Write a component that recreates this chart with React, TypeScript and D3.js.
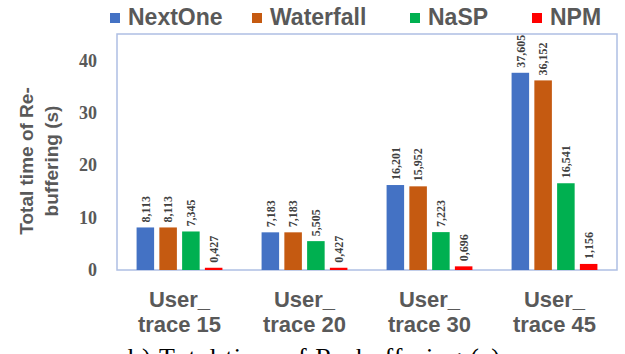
import React from "react";
import * as d3 from "d3";

const categories = ["User_|trace 15", "User_|trace 20", "User_|trace 30", "User_|trace 45"];
const seriesNames = ["NextOne", "Waterfall", "NaSP", "NPM"];
const nextOne = [8.113, 7.183, 16.201, 37.605];
const waterfall = [8.113, 7.183, 15.952, 36.152];
const nasp = [7.345, 5.505, 7.223, 16.541];
const npm = [0.427, 0.427, 0.696, 1.156];
const yTicks = [0, 10, 20, 30, 40];
const colors = ["#4472C4", "#C55A11", "#00B050", "#FF0000"];

const seriesValues = [nextOne, waterfall, nasp, npm];

const fmt = (v: number) => v.toFixed(3).replace(".", ",");

export default function App() {
  const W = 625, H = 354;
  const left = 117, right = 617, top = 34, bottom = 270;
  const x0 = d3.scaleBand<string>().domain(categories).range([left, right]);
  const x1 = d3.scaleBand<string>().domain(seriesNames).range([0, x0.bandwidth()]).paddingInner(0.23).paddingOuter(0.86);
  const y = d3.scaleLinear().domain([0, 45]).range([bottom, top]);
  const gray = "#595959";
  const legendX = [110, 252, 410, 532];

  return (
    <svg width={W} height={H} style={{ position: "absolute", left: 0, top: 0, background: "#fff" }}>
      <rect x={left} y={top} width={right - left} height={bottom - top} fill="none" stroke="#aebfe3" strokeWidth={1.5} />
      {/* legend */}
      {seriesNames.map((s, i) => (
        <g key={s}>
          <rect x={legendX[i]} y={13} width={10} height={10} fill={colors[i]} />
          <text x={legendX[i] + 18} y={25} fontFamily="Liberation Sans, Arial, sans-serif" fontWeight="bold" fontSize={23} fill={gray}>{s}</text>
        </g>
      ))}
      {/* y ticks */}
      {yTicks.map((t) => (
        <text key={t} x={97} y={y(t)} dy="0.35em" textAnchor="end" fontFamily="Liberation Serif, 'Times New Roman', serif" fontWeight="bold" fontSize={18} fill={gray}>{t}</text>
      ))}
      {/* y title */}
      <text transform={`translate(33,161) rotate(-90)`} textAnchor="middle" fontFamily="Liberation Sans, Arial, sans-serif" fontWeight="bold" fontSize={19} fill={gray}>
        <tspan x={0} y={0}>Total time of Re-</tspan>
        <tspan x={0} y={25}>buffering (s)</tspan>
      </text>
      {/* bars */}
      {categories.map((c, ci) => (
        <g key={c} transform={`translate(${x0(c)},0)`}>
          {seriesNames.map((s, si) => {
            const v = seriesValues[si][ci];
            const bx = x1(s)!;
            const bw = x1.bandwidth();
            return (
              <g key={s}>
                <rect x={bx} y={y(v)} width={bw} height={y(0) - y(v)} fill={colors[si]} />
                <text transform={`translate(${bx + bw / 2},${y(v) - 5}) rotate(-90)`} dy="0.35em" textAnchor="start" fontFamily="Liberation Serif, 'Times New Roman', serif" fontWeight="bold" fontSize={12} fill="#404040">{fmt(v)}</text>
              </g>
            );
          })}
          {c.split("|").map((line, li) => (
            <text key={li} x={x0.bandwidth() / 2} y={307 + li * 25} textAnchor="middle" fontFamily="Liberation Sans, Arial, sans-serif" fontWeight="bold" fontSize={22} fill={gray}>{line}</text>
          ))}
        </g>
      ))}
      <text x={128} y={366} fontFamily="Liberation Serif, 'Times New Roman', serif" fontSize={26} textLength={372} lengthAdjust="spacing" fill="#000">b) Total time of Re-buffering (s)</text>
    </svg>
  );
}
